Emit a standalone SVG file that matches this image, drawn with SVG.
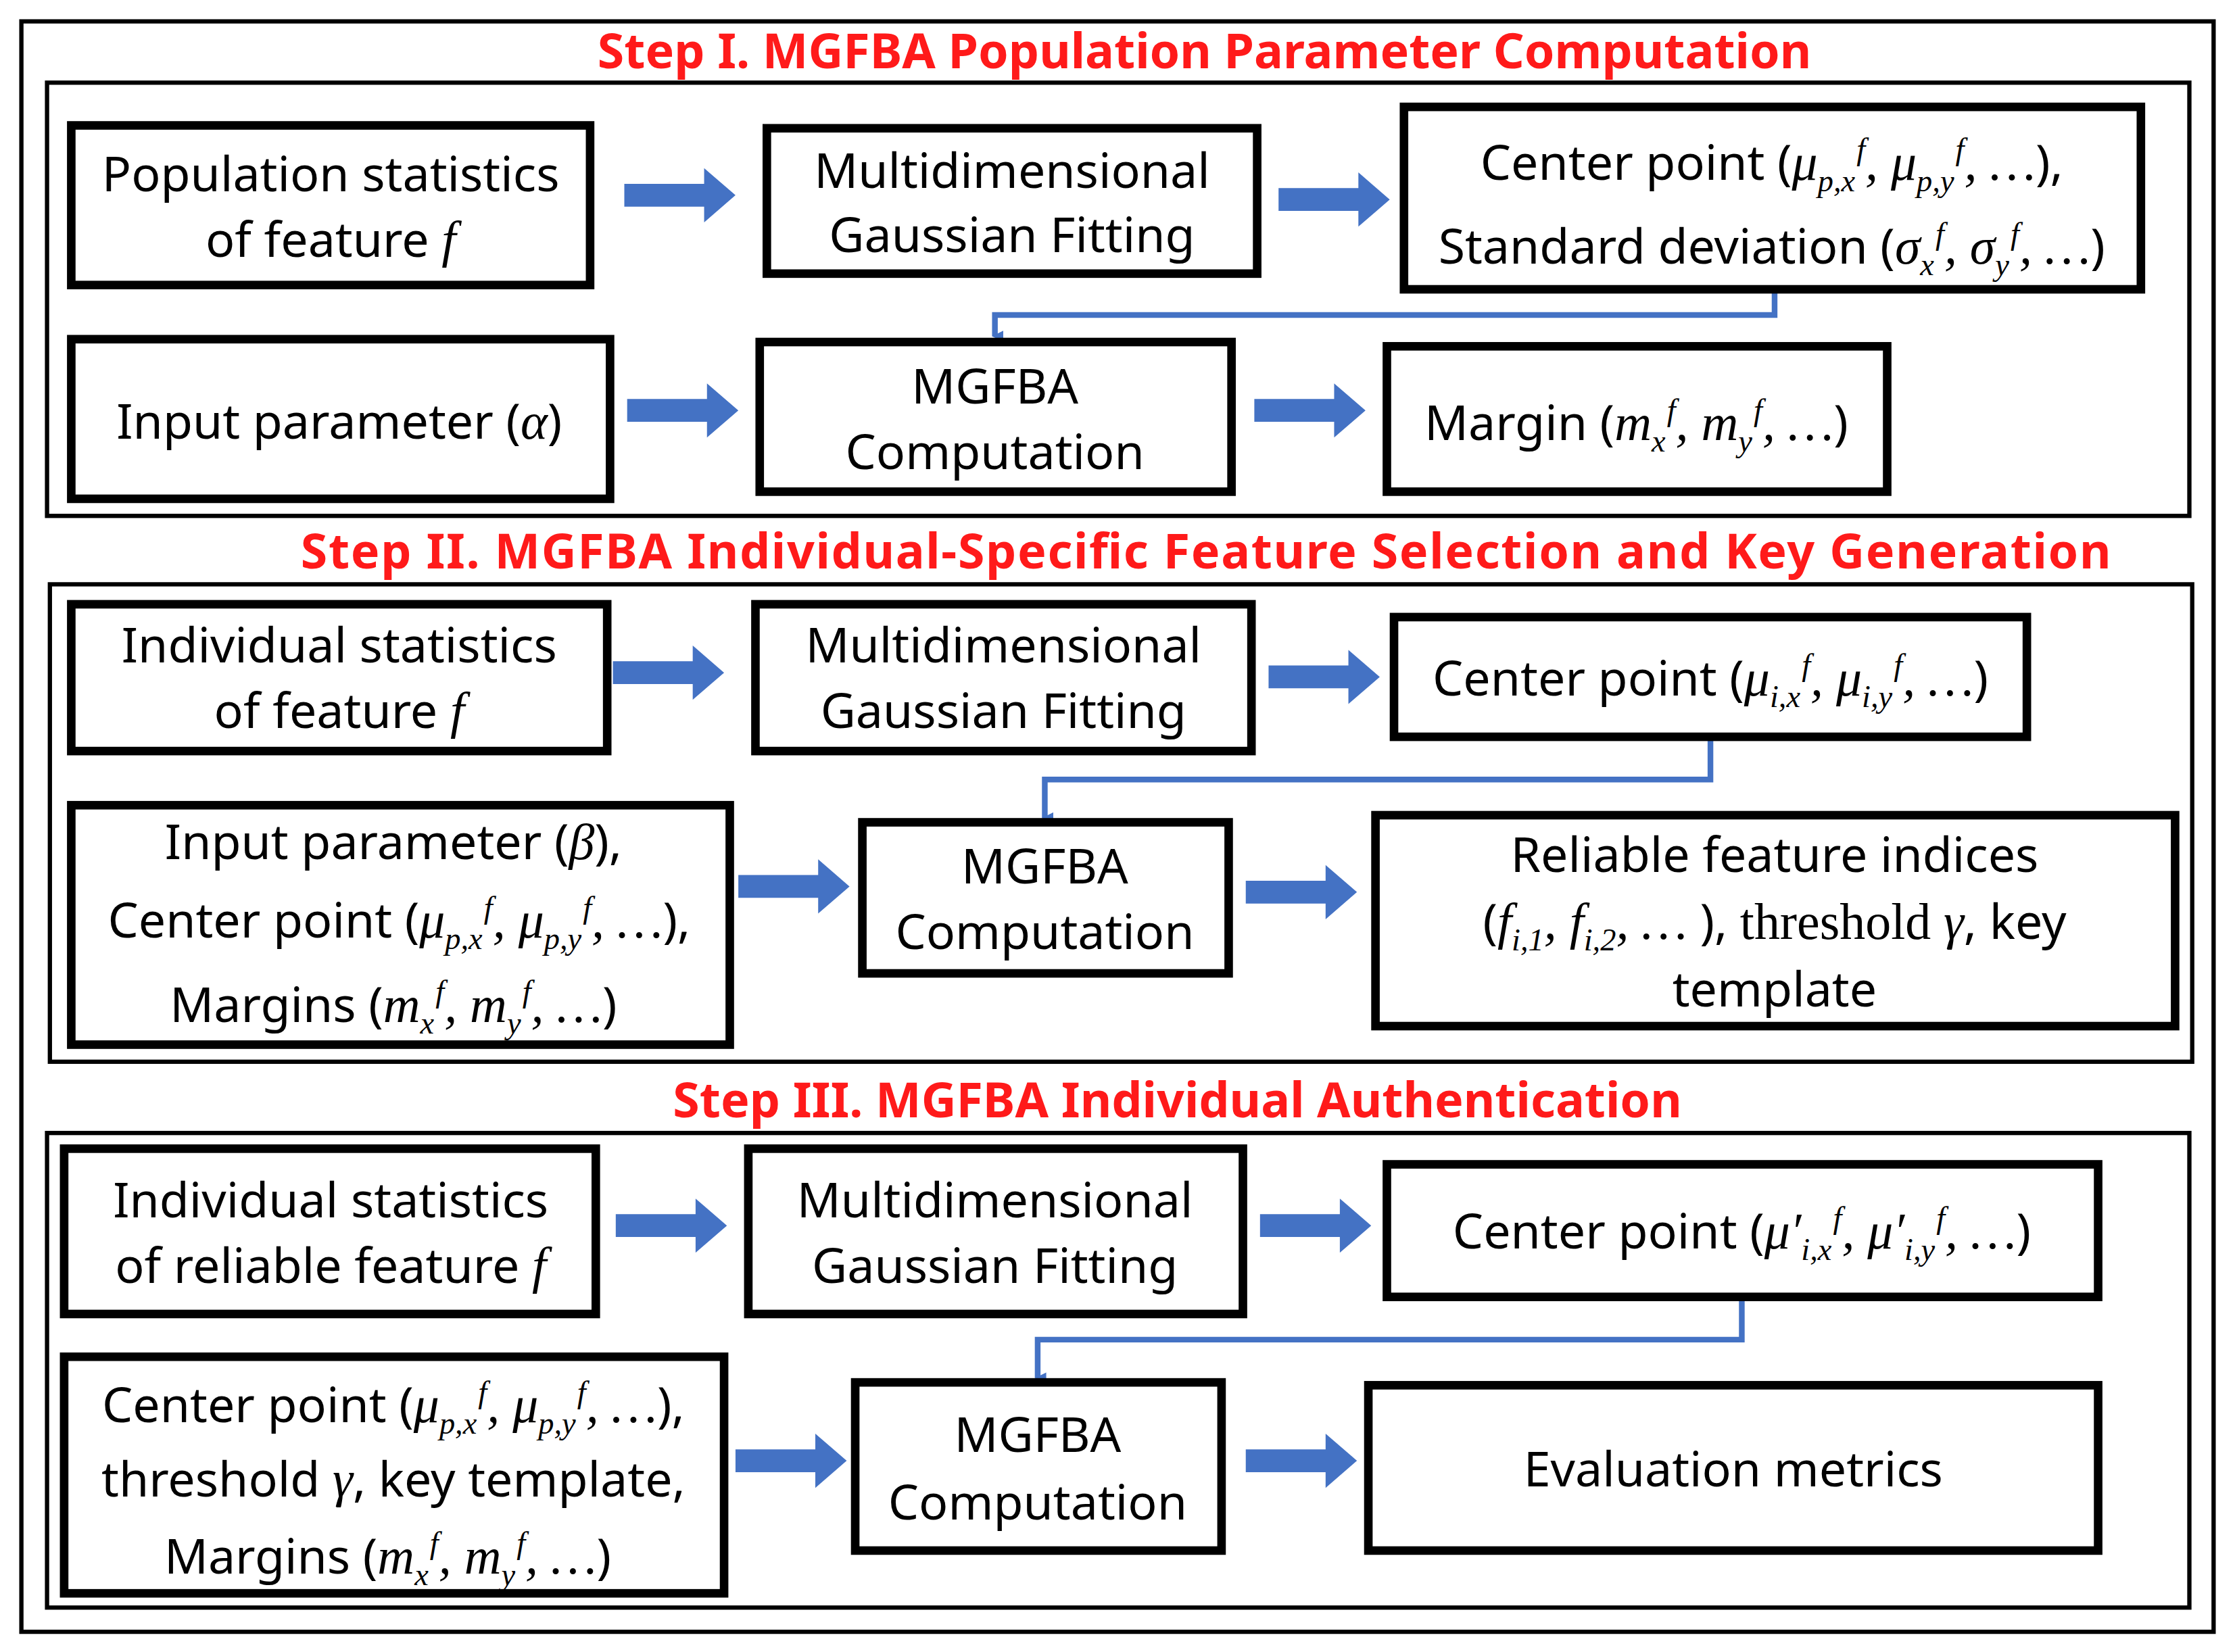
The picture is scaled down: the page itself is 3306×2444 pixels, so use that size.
<svg xmlns="http://www.w3.org/2000/svg" width="3306" height="2444" viewBox="0 0 3306 2444">
<style>
.pan{fill:none;stroke:#000;stroke-width:3}
.box{fill:#fff;stroke:#000;stroke-width:6}
.t{font-family:"Noto Sans","Open Sans",sans-serif;font-size:34px;fill:#000;text-anchor:middle}
.m{font-family:"Liberation Serif",serif;font-style:italic;font-size:36px}
.s{font-size:22px}
.h{font-family:"Noto Sans","Liberation Sans",sans-serif;font-weight:bold;font-size:34px;fill:#ff1a1a;text-anchor:middle}
.c{fill:none;stroke:#4472C4;stroke-width:4}
</style>
<defs>
<path id="ba" d="M0,-8 H56 V-19 L78,0 L56,19 V8 H0 Z" fill="#4472C4"/>
<marker id="ah" markerWidth="8" markerHeight="8" refX="4" refY="6" orient="auto" markerUnits="userSpaceOnUse" viewBox="0 0 8 8"><path d="M0,0 L8,0 L4,8 Z" fill="#4472C4"/></marker>
</defs>
<rect width="3306" height="2444" fill="#fff"/>
<g transform="scale(2.1084)">
<rect class="pan" x="15" y="15" width="1538" height="1130"/>
<text class="h" x="845" y="48">Step I. MGFBA Population Parameter Computation</text>
<rect class="pan" x="33" y="58" width="1503" height="304"/>
<text class="h" x="846" y="399" textLength="1270">Step II. MGFBA Individual-Specific Feature Selection and Key Generation</text>
<rect class="pan" x="35" y="410" width="1503" height="335"/>
<text class="h" x="826" y="784">Step III. MGFBA Individual Authentication</text>
<rect class="pan" x="33" y="795" width="1503" height="333"/>

<g id="connectors">
<use href="#ba" x="438" y="137"/><use href="#ba" x="897" y="140"/>
<use href="#ba" x="440" y="288"/><use href="#ba" x="880" y="288"/>
<use href="#ba" x="430" y="472"/><use href="#ba" x="890" y="475"/>
<use href="#ba" x="518" y="622"/><use href="#ba" x="874" y="626"/>
<use href="#ba" x="432" y="860"/><use href="#ba" x="884" y="860"/>
<use href="#ba" x="516" y="1025"/><use href="#ba" x="874" y="1025"/>
<path class="c" d="M1245,203 V221 H698 V236" marker-end="url(#ah)"/>
<path class="c" d="M1200,517 V547 H733 V574" marker-end="url(#ah)"/>
<path class="c" d="M1222,910 V940 H728 V967" marker-end="url(#ah)"/>
</g>

<g id="n1"><rect class="box" x="50" y="88" width="364" height="112"/>
<text class="t" x="232" y="134">Population statistics</text>
<text class="t" x="232" y="180">of feature <tspan class="m">f</tspan></text></g>
<g id="n2"><rect class="box" x="538" y="90" width="344" height="102"/>
<text class="t" x="710" y="132">Multidimensional</text>
<text class="t" x="710" y="177">Gaussian Fitting</text></g>
<g id="n3"><rect class="box" x="985" y="75" width="517" height="128"/>
<text class="t" x="1243" y="126">Center point (<tspan class="m">μ<tspan class="s" dy="8">p,x</tspan><tspan class="s" dx="1" dy="-22">f</tspan><tspan dy="14">, μ</tspan><tspan class="s" dy="8">p,y</tspan><tspan class="s" dx="1" dy="-22">f</tspan><tspan dy="14">, …</tspan></tspan>),</text>
<text class="t" x="1243" y="185">Standard deviation (<tspan class="m">σ<tspan class="s" dy="8">x</tspan><tspan class="s" dx="1" dy="-22">f</tspan><tspan dy="14">, σ</tspan><tspan class="s" dy="8">y</tspan><tspan class="s" dx="1" dy="-22">f</tspan><tspan dy="14">, …</tspan></tspan>)</text></g>

<g id="n4"><rect class="box" x="50" y="238" width="378" height="112"/>
<text class="t" x="238" y="308">Input parameter (<tspan class="m">α</tspan>)</text></g>
<g id="n5"><rect class="box" x="533" y="240" width="331" height="105"/>
<text class="t" x="698" y="283">MGFBA</text>
<text class="t" x="698" y="329">Computation</text></g>
<g id="n6"><rect class="box" x="973" y="243" width="351" height="102"/>
<text class="t" x="1148" y="309">Margin (<tspan class="m">m<tspan class="s" dy="8">x</tspan><tspan class="s" dx="1" dy="-22">f</tspan><tspan dy="14">, m</tspan><tspan class="s" dy="8">y</tspan><tspan class="s" dx="1" dy="-22">f</tspan><tspan dy="14">, …</tspan></tspan>)</text></g>

<g id="n7"><rect class="box" x="50" y="424" width="376" height="103"/>
<text class="t" x="238" y="465">Individual statistics</text>
<text class="t" x="238" y="511">of feature <tspan class="m">f</tspan></text></g>
<g id="n8"><rect class="box" x="530" y="424" width="348" height="103"/>
<text class="t" x="704" y="465">Multidimensional</text>
<text class="t" x="704" y="511">Gaussian Fitting</text></g>
<g id="n9"><rect class="box" x="978" y="433" width="444" height="84"/>
<text class="t" x="1200" y="488">Center point (<tspan class="m">μ<tspan class="s" dy="8">i,x</tspan><tspan class="s" dx="1" dy="-22">f</tspan><tspan dy="14">, μ</tspan><tspan class="s" dy="8">i,y</tspan><tspan class="s" dx="1" dy="-22">f</tspan><tspan dy="14">, …</tspan></tspan>)</text></g>

<g id="n10"><rect class="box" x="50" y="565" width="462" height="168"/>
<text class="t" x="276" y="603">Input parameter (<tspan class="m">β</tspan>),</text>
<text class="t" x="280" y="658">Center point (<tspan class="m">μ<tspan class="s" dy="8">p,x</tspan><tspan class="s" dx="1" dy="-22">f</tspan><tspan dy="14">, μ</tspan><tspan class="s" dy="8">p,y</tspan><tspan class="s" dx="1" dy="-22">f</tspan><tspan dy="14">, …</tspan></tspan>),</text>
<text class="t" x="276" y="717">Margins (<tspan class="m">m<tspan class="s" dy="8">x</tspan><tspan class="s" dx="1" dy="-22">f</tspan><tspan dy="14">, m</tspan><tspan class="s" dy="8">y</tspan><tspan class="s" dx="1" dy="-22">f</tspan><tspan dy="14">, …</tspan></tspan>)</text></g>
<g id="n11"><rect class="box" x="605" y="577" width="257" height="106"/>
<text class="t" x="733" y="620">MGFBA</text>
<text class="t" x="733" y="666">Computation</text></g>
<g id="n12"><rect class="box" x="965" y="572" width="561" height="148"/>
<text class="t" x="1245" y="612">Reliable feature indices</text>
<text class="t" x="1245" y="659">(<tspan class="m">f<tspan class="s" dy="8">i,1</tspan><tspan dy="-8">, f</tspan><tspan class="s" dy="8">i,2</tspan><tspan dy="-8">, …</tspan></tspan> ), <tspan font-family="Liberation Serif" font-size="36">threshold</tspan> <tspan class="m">γ</tspan>, key</text>
<text class="t" x="1245" y="706">template</text></g>

<g id="n13"><rect class="box" x="45" y="806" width="373" height="116"/>
<text class="t" x="232" y="854">Individual statistics</text>
<text class="t" x="232" y="900">of reliable feature <tspan class="m">f</tspan></text></g>
<g id="n14"><rect class="box" x="525" y="806" width="347" height="116"/>
<text class="t" x="698" y="854">Multidimensional</text>
<text class="t" x="698" y="900">Gaussian Fitting</text></g>
<g id="n15"><rect class="box" x="973" y="817" width="499" height="93"/>
<text class="t" x="1222" y="876">Center point (<tspan class="m">μ′<tspan class="s" dy="8">i,x</tspan><tspan class="s" dx="1" dy="-22">f</tspan><tspan dy="14">, μ′</tspan><tspan class="s" dy="8">i,y</tspan><tspan class="s" dx="1" dy="-22">f</tspan><tspan dy="14">, …</tspan></tspan>)</text></g>

<g id="n16"><rect class="box" x="45" y="952" width="463" height="166"/>
<text class="t" x="276" y="998">Center point (<tspan class="m">μ<tspan class="s" dy="8">p,x</tspan><tspan class="s" dx="1" dy="-22">f</tspan><tspan dy="14">, μ</tspan><tspan class="s" dy="8">p,y</tspan><tspan class="s" dx="1" dy="-22">f</tspan><tspan dy="14">, …</tspan></tspan>),</text>
<text class="t" x="276" y="1050">threshold <tspan class="m">γ</tspan>, key template,</text>
<text class="t" x="272" y="1104">Margins (<tspan class="m">m<tspan class="s" dy="8">x</tspan><tspan class="s" dx="1" dy="-22">f</tspan><tspan dy="14">, m</tspan><tspan class="s" dy="8">y</tspan><tspan class="s" dx="1" dy="-22">f</tspan><tspan dy="14">, …</tspan></tspan>)</text></g>
<g id="n17"><rect class="box" x="600" y="970" width="257" height="118"/>
<text class="t" x="728" y="1019">MGFBA</text>
<text class="t" x="728" y="1066">Computation</text></g>
<g id="n18"><rect class="box" x="960" y="972" width="512" height="116"/>
<text class="t" x="1216" y="1043">Evaluation metrics</text></g>
</g>
</svg>
